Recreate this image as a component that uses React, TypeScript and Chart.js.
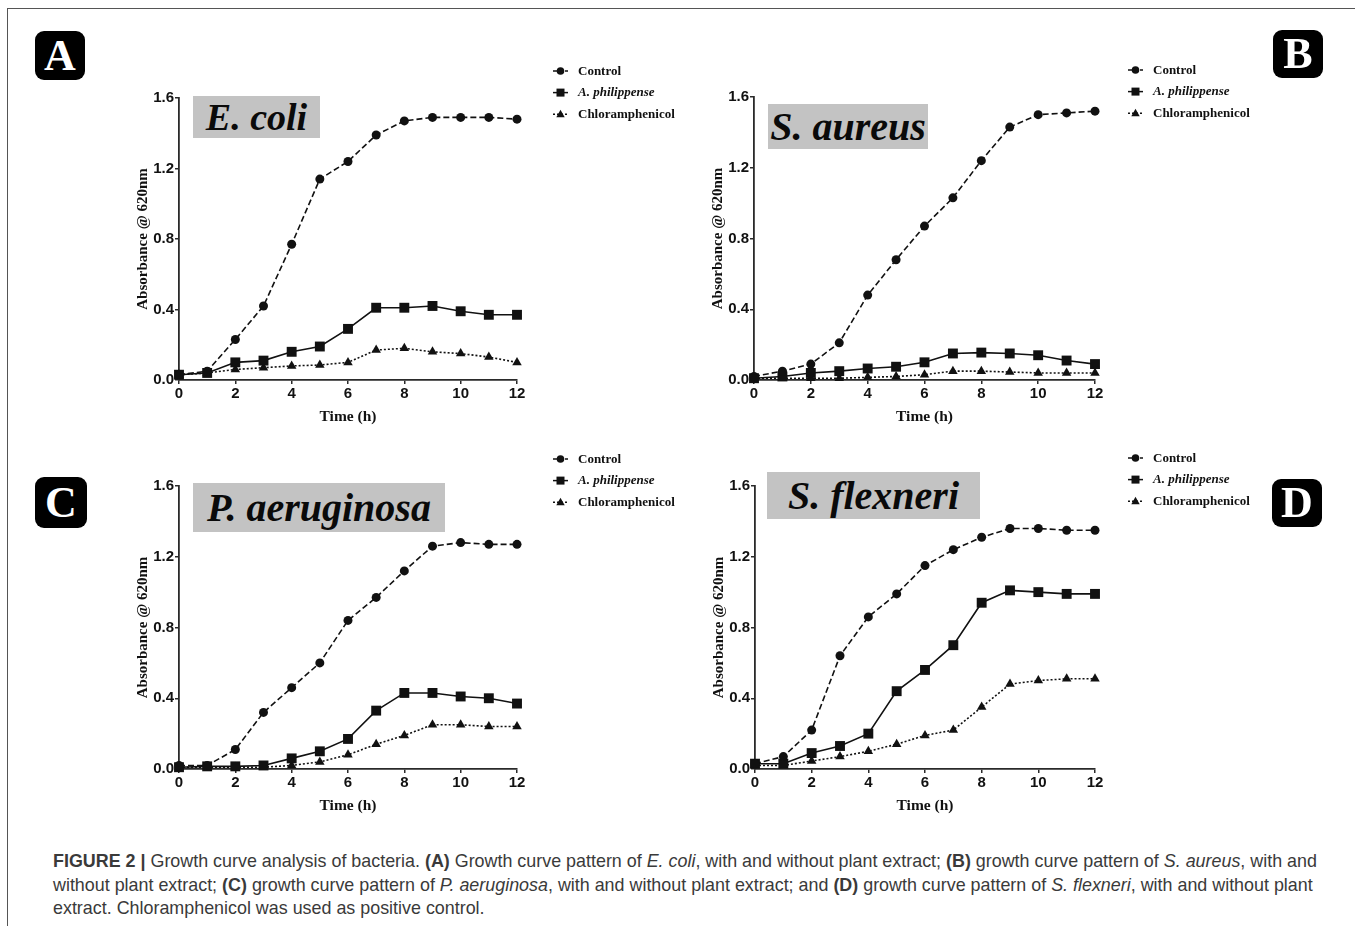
import React, { useEffect, useRef } from "react";
import { Chart, registerables } from "chart.js";

Chart.register(...registerables);

// ---------- DATA ----------
const hours = [0, 1, 2, 3, 4, 5, 6, 7, 8, 9, 10, 11, 12];
const yTickValues = [0, 0.4, 0.8, 1.2, 1.6];
const xTickValues = [0, 2, 4, 6, 8, 10, 12];
const seriesLabels = ["Control", "A. philippense", "Chloramphenicol"];

const ecoliControl = [0.03, 0.05, 0.23, 0.42, 0.77, 1.14, 1.24, 1.39, 1.47, 1.49, 1.49, 1.49, 1.48];
const ecoliPlant = [0.03, 0.04, 0.1, 0.11, 0.16, 0.19, 0.29, 0.41, 0.41, 0.42, 0.39, 0.37, 0.37];
const ecoliChlor = [0.03, 0.04, 0.06, 0.07, 0.08, 0.085, 0.1, 0.17, 0.18, 0.16, 0.15, 0.13, 0.1];

const aureusControl = [0.02, 0.05, 0.09, 0.21, 0.48, 0.68, 0.87, 1.03, 1.24, 1.43, 1.5, 1.51, 1.52];
const aureusPlant = [0.01, 0.02, 0.04, 0.05, 0.065, 0.075, 0.1, 0.15, 0.155, 0.15, 0.14, 0.11, 0.09];
const aureusChlor = [0.01, 0.01, 0.01, 0.01, 0.015, 0.02, 0.03, 0.05, 0.05, 0.045, 0.04, 0.04, 0.04];

const aeruginosaControl = [0.02, 0.02, 0.11, 0.32, 0.46, 0.6, 0.84, 0.97, 1.12, 1.26, 1.28, 1.27, 1.27];
const aeruginosaPlant = [0.01, 0.015, 0.015, 0.02, 0.06, 0.1, 0.17, 0.33, 0.43, 0.43, 0.41, 0.4, 0.37];
const aeruginosaChlor = [0.01, 0.01, 0.01, 0.01, 0.02, 0.04, 0.08, 0.14, 0.19, 0.25, 0.25, 0.24, 0.24];

const flexneriControl = [0.03, 0.07, 0.22, 0.64, 0.86, 0.99, 1.15, 1.24, 1.31, 1.36, 1.36, 1.35, 1.35];
const flexneriPlant = [0.03, 0.03, 0.09, 0.13, 0.2, 0.44, 0.56, 0.7, 0.94, 1.01, 1.0, 0.99, 0.99];
const flexneriChlor = [0.02, 0.02, 0.045, 0.07, 0.1, 0.14, 0.19, 0.22, 0.35, 0.48, 0.5, 0.51, 0.51];

const panelLetters = ["A", "B", "C", "D"];
const organismNames = ["E. coli", "S. aureus", "P. aeruginosa", "S. flexneri"];
const xAxisTitle = "Time (h)";
const yAxisTitle = "Absorbance @ 620nm";

// ---------- STYLE / LAYOUT ----------
const INK = "#111111";
const AXIS = "#2a2a2a";
const dashes = [[6, 3], [], [2, 2]];
const pointStyles = ["circle", "rect", "triangle"];
const pointRadii = [4.5, 7, 5.5];

type Layout = {
  axisLeft: number;
  axisRight: number;
  axisTop: number;
  axisBottom: number;
  legendX: number;
  legendY: number;
  badge: { x: number; y: number; w: number; h: number };
  box: { x: number; y: number; w: number; h: number; font: number };
};

const layouts: Layout[] = [
  { axisLeft: 179, axisRight: 517, axisTop: 98, axisBottom: 380, legendX: 553, legendY: 71,
    badge: { x: 35, y: 31, w: 50, h: 49 }, box: { x: 193, y: 96, w: 127, h: 42, font: 38 } },
  { axisLeft: 754, axisRight: 1095, axisTop: 97, axisBottom: 380, legendX: 1128, legendY: 70,
    badge: { x: 1273, y: 30, w: 50, h: 48 }, box: { x: 768, y: 104, w: 160, h: 45, font: 40 } },
  { axisLeft: 179, axisRight: 517, axisTop: 486, axisBottom: 769, legendX: 553, legendY: 459,
    badge: { x: 35, y: 477, w: 52, h: 51 }, box: { x: 193, y: 483, w: 252, h: 49, font: 40 } },
  { axisLeft: 755, axisRight: 1095, axisTop: 486, axisBottom: 769, legendX: 1128, legendY: 458,
    badge: { x: 1272, y: 479, w: 50, h: 48 }, box: { x: 767, y: 472, w: 213, h: 47, font: 40 } },
];

const panelData = [
  [ecoliControl, ecoliPlant, ecoliChlor],
  [aureusControl, aureusPlant, aureusChlor],
  [aeruginosaControl, aeruginosaPlant, aeruginosaChlor],
  [flexneriControl, flexneriPlant, flexneriChlor],
];

const CANVAS_PAD_LEFT = 62;
const CANVAS_PAD_TOP = 40;
const CANVAS_W = 620;
const CANVAS_H = 370;
const X_AXIS_H = 46;

function drawMarker(ctx: CanvasRenderingContext2D, style: string, x: number, y: number, s: number) {
  ctx.beginPath();
  if (style === "circle") {
    ctx.arc(x, y, s, 0, Math.PI * 2);
  } else if (style === "rect") {
    ctx.rect(x - s, y - s, 2 * s, 2 * s);
  } else {
    ctx.moveTo(x, y - s * 1.2);
    ctx.lineTo(x + s * 1.1, y + s * 0.8);
    ctx.lineTo(x - s * 1.1, y + s * 0.8);
    ctx.closePath();
  }
  ctx.fill();
}

function Panel({ index }: { index: number }) {
  const ref = useRef<HTMLCanvasElement | null>(null);
  const L = layouts[index];
  const canvasLeft = L.axisLeft - CANVAS_PAD_LEFT;
  const canvasTop = L.axisTop - CANVAS_PAD_TOP;

  useEffect(() => {
    if (!ref.current) return;
    const data = panelData[index];
    const plotW = L.axisRight - L.axisLeft;
    const plotH = L.axisBottom - L.axisTop;
    const padRight = CANVAS_W - CANVAS_PAD_LEFT - plotW;
    const padBottom = CANVAS_H - CANVAS_PAD_TOP - plotH - X_AXIS_H;

    const legendPlugin = {
      id: "customLegend",
      afterDraw(chart: any) {
        const ctx: CanvasRenderingContext2D = chart.ctx;
        ctx.save();
        const lx = L.legendX - canvasLeft;
        for (let i = 0; i < 3; i++) {
          const ly = L.legendY - canvasTop + i * 21.6;
          ctx.strokeStyle = INK;
          ctx.fillStyle = INK;
          ctx.lineWidth = 1.5;
          ctx.setLineDash(i === 0 ? [4, 2] : i === 2 ? [2, 2] : []);
          ctx.beginPath();
          ctx.moveTo(lx, ly);
          ctx.lineTo(lx + 15, ly);
          ctx.stroke();
          ctx.setLineDash([]);
          drawMarker(ctx, pointStyles[i], lx + 7.5, ly, i === 1 ? 4 : 3.8);
          ctx.font = (i === 1 ? "italic bold " : "bold ") + "13px 'Liberation Serif', 'Times New Roman', serif";
          ctx.textBaseline = "middle";
          ctx.textAlign = "left";
          ctx.fillText(seriesLabels[i], lx + 25, ly + 0.5);
        }
        ctx.restore();
      },
    };

    const chart = new Chart(ref.current, {
      type: "line",
      data: {
        labels: hours,
        datasets: seriesLabels.map((label, i) => ({
          label,
          data: hours.map((h, k) => ({ x: h, y: data[i][k] })),
          borderColor: INK,
          backgroundColor: INK,
          borderWidth: 1.6,
          borderDash: dashes[i],
          pointStyle: pointStyles[i] as any,
          pointRadius: pointRadii[i],
          pointBackgroundColor: INK,
          pointBorderColor: INK,
          pointBorderWidth: 0,
          tension: 0,
          clip: false as any,
        })),
      },
      options: {
        animation: false,
        responsive: false,
        maintainAspectRatio: false,
        events: [],
        layout: { padding: { left: 0, top: CANVAS_PAD_TOP, right: padRight, bottom: padBottom } },
        plugins: { legend: { display: false }, tooltip: { enabled: false } },
        scales: {
          x: {
            type: "linear",
            min: 0,
            max: 12,
            afterFit: (s: any) => { s.height = X_AXIS_H; },
            afterBuildTicks: (s: any) => { s.ticks = xTickValues.map((v) => ({ value: v })); },
            border: { display: true, color: AXIS, width: 1.8 },
            grid: { display: true, drawOnChartArea: false, drawTicks: true, tickLength: 4, color: AXIS, lineWidth: 1.5 },
            ticks: {
              color: INK,
              padding: 1,
              maxRotation: 0,
              font: { family: "'Liberation Sans Narrow', 'Liberation Sans', Arial, sans-serif", size: 15, weight: "bold" },
            },
            title: {
              display: true,
              text: xAxisTitle,
              color: INK,
              padding: { top: 1, bottom: 0 },
              font: { family: "'Liberation Serif', 'Times New Roman', serif", size: 15.5, weight: "bold" },
            },
          },
          y: {
            type: "linear",
            min: 0,
            max: 1.6,
            afterFit: (s: any) => { s.width = CANVAS_PAD_LEFT; },
            afterBuildTicks: (s: any) => { s.ticks = yTickValues.map((v) => ({ value: v })); },
            border: { display: true, color: AXIS, width: 1.8 },
            grid: { display: true, drawOnChartArea: false, drawTicks: true, tickLength: 4, color: AXIS, lineWidth: 1.5 },
            ticks: {
              color: INK,
              padding: 1,
              callback: (v: any) => Number(v).toFixed(1),
              font: { family: "'Liberation Sans Narrow', 'Liberation Sans', Arial, sans-serif", size: 15, weight: "bold" },
            },
            title: {
              display: true,
              text: yAxisTitle,
              color: INK,
              padding: { top: 17, bottom: 0 },
              font: { family: "'Liberation Serif', 'Times New Roman', serif", size: 15, weight: "bold" },
            },
          },
        },
      },
      plugins: [legendPlugin],
    });
    return () => chart.destroy();
  }, [index]);

  return (
    <>
      <canvas
        ref={ref}
        width={CANVAS_W}
        height={CANVAS_H}
        style={{ position: "absolute", left: canvasLeft, top: canvasTop, width: CANVAS_W, height: CANVAS_H }}
      />
      <div
        style={{
          position: "absolute",
          left: L.box.x,
          top: L.box.y,
          width: L.box.w,
          height: L.box.h,
          background: "#c3c3c3",
          display: "flex",
          alignItems: "center",
          justifyContent: "center",
          fontFamily: "'Liberation Serif', 'Times New Roman', serif",
          fontStyle: "italic",
          fontWeight: "bold",
          fontSize: L.box.font,
          color: "#0a0a0a",
          whiteSpace: "nowrap",
          lineHeight: 1,
        }}
      >
        {organismNames[index]}
      </div>
      <div
        style={{
          position: "absolute",
          left: L.badge.x,
          top: L.badge.y,
          width: L.badge.w,
          height: L.badge.h,
          background: "#000",
          borderRadius: 9,
          color: "#fff",
          display: "flex",
          alignItems: "center",
          justifyContent: "center",
          fontFamily: "'Liberation Serif', 'Times New Roman', serif",
          fontWeight: "bold",
          fontSize: 44,
          lineHeight: 1,
        }}
      >
        {panelLetters[index]}
      </div>
    </>
  );
}

export default function App() {
  useEffect(() => {
    document.body.style.margin = "0";
  }, []);
  const capStyle: React.CSSProperties = {
    position: "absolute",
    left: 53,
    top: 850,
    fontFamily: "'Liberation Sans', Arial, Helvetica, sans-serif",
    fontSize: 17.9,
    lineHeight: "23.5px",
    color: "#3a3a3a",
    whiteSpace: "nowrap",
  };
  return (
    <div style={{ position: "relative", width: 1355, height: 926, background: "#fff", overflow: "hidden" }}>
      <div style={{ position: "absolute", left: 7, top: 8, width: 1400, height: 1000, borderTop: "1.5px solid #555", borderLeft: "1.5px solid #555" }} />
      {[0, 1, 2, 3].map((i) => (
        <Panel key={i} index={i} />
      ))}
      <div style={capStyle}>
        <b>FIGURE 2 |</b> Growth curve analysis of bacteria. <b>(A)</b> Growth curve pattern of <i>E. coli</i>, with and
        without plant extract; <b>(B)</b> growth curve pattern of <i>S. aureus</i>, with and
        <br />
        without plant extract; <b>(C)</b> growth curve pattern of <i>P. aeruginosa</i>, with and without plant extract; and{" "}
        <b>(D)</b> growth curve pattern of <i>S. flexneri</i>, with and without plant
        <br />
        extract. Chloramphenicol was used as positive control.
      </div>
    </div>
  );
}
